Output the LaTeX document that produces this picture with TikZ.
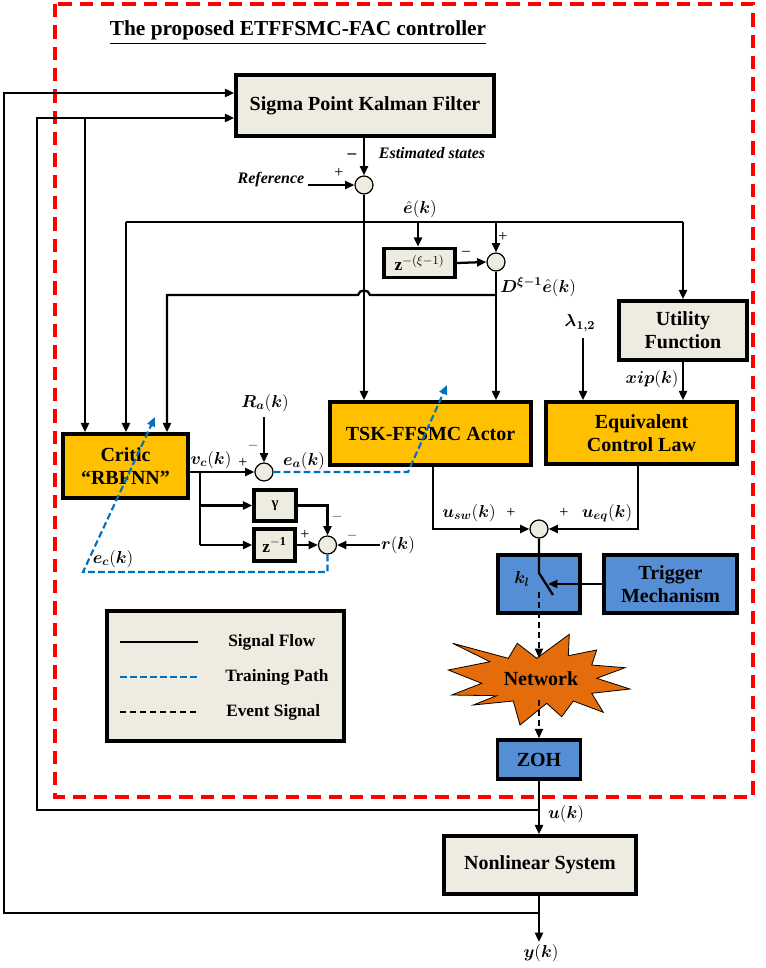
\RequirePackage{fix-cm}
\documentclass[tikz,border=0pt]{standalone}
\usepackage{amsmath,bm}
\usepackage{fontspec}
\setmainfont{Liberation Serif}
\usetikzlibrary{arrows.meta}
\definecolor{beigec}{HTML}{EEECE1}
\definecolor{orangec}{HTML}{FFC000}
\definecolor{bluebox}{HTML}{558ED5}
\definecolor{netc}{HTML}{E46C0A}
\definecolor{trainc}{HTML}{0070C0}
\definecolor{redc}{HTML}{FF0000}
\begin{document}
\begin{tikzpicture}[x=0.75pt,y=-0.75pt,
  box/.style={draw, line width=2.6pt, font=\bfseries\fontsize{15}{17}\selectfont, align=center, inner sep=0pt},
  sumc/.style={circle, draw, line width=0.9pt, fill=beigec, minimum size=13.5pt, inner sep=0pt},
  ln/.style={line width=1.7pt},
  tip/.style={-{Triangle[length=7pt,width=6pt]}},
  arr/.style={ln, tip},
  train/.style={line width=1.6pt, color=trainc, dash pattern=on 5pt off 2.5pt},
  evt/.style={line width=1.4pt, dash pattern=on 4.5pt off 3pt},
  redbox/.style={line width=2.4pt, color=redc, dash pattern=on 10pt off 6pt},
  lbl/.style={font=\fontsize{12}{14}\selectfont, inner sep=0pt},
  ilbl/.style={font=\bfseries\itshape\fontsize{12}{14}\selectfont, inner sep=0pt},
  mlbl/.style={font=\fontsize{13}{15}\selectfont, inner sep=0pt},
  legt/.style={font=\bfseries\fontsize{13}{15}\selectfont, anchor=west, inner sep=0pt}
]
\useasboundingbox (0,0) rectangle (766,968);
\fill[white] (0,0) rectangle (766,968);

% red dashed frame
\draw[redbox] (55,4) rectangle (753,797);

% title
\node[font=\bfseries\fontsize{16}{18}\selectfont, inner sep=0pt] (title) at (298,33) {\underline{The proposed ETFFSMC-FAC controller}};

% boxes
\node[box, fill=beigec, minimum width=193.5pt, minimum height=45.75pt] (spkf) at (365,105.5) {Sigma Point Kalman Filter};
\node[box, fill=beigec, minimum width=53.25pt, minimum height=21.75pt, font=\fontsize{13}{15}\selectfont] (zbox) at (419.5,263) {$\mathbf{z}^{-(\xi-1)}$};
\node[box, fill=beigec, minimum width=96pt, minimum height=44.25pt] (util) at (683,330.5) {Utility\\Function};
\node[box, fill=orangec, minimum width=143.25pt, minimum height=46.5pt] (ecl) at (641.5,433) {Equivalent\\Control Law};
\node[box, fill=orangec, minimum width=150.75pt, minimum height=47.25pt] (tsk) at (430.5,433.5) {TSK-FFSMC Actor};
\node[box, fill=orangec, minimum width=93.75pt, minimum height=48pt] (critic) at (125.5,466) {Critic\\``RBFNN''};
\node[box, fill=beigec, minimum width=31.5pt, minimum height=23.25pt, font=\bfseries\fontsize{11}{13}\selectfont] (gamma) at (275,505.5) {γ};
\node[box, fill=beigec, minimum width=30.75pt, minimum height=24pt, font=\fontsize{13}{15}\selectfont] (zinv) at (274.5,545) {$\mathbf{z}^{\mathbf{-1}}$};
\node[box, fill=bluebox, minimum width=61.5pt, minimum height=43.5pt] (kl) at (539,584) {};
\node[box, fill=bluebox, minimum width=99.75pt, minimum height=43.5pt] (trig) at (670.5,584) {Trigger\\Mechanism};
\node[box, fill=bluebox, minimum width=62.25pt, minimum height=29.25pt] (zoh) at (539,759.5) {ZOH};
\node[box, fill=beigec, minimum width=144pt, minimum height=43.5pt] (ns) at (540,865) {Nonlinear System};
\node[mlbl] (kll) at (522,579) {$\bm{k_l}$};

% network starburst
\draw[fill=netc, line width=0.6pt] (452.7,643.3) -- (508.3,658.3) -- (517.3,643.3) -- (536.7,658.3) -- (569.3,634.3) -- (568.3,655.7) -- (596.7,650) -- (591.7,665) -- (625,667.7) -- (596.7,678.3) -- (630,689) -- (591.7,693.3) -- (603.3,712.3) -- (573.3,701) -- (561.7,716.7) -- (546.7,703.3) -- (520,725) -- (513.3,701) -- (473.3,705) -- (496.7,695.7) -- (451.7,695) -- (481.7,683.3) -- (448.3,670) -- (490,661.7) -- cycle;
\node[font=\bfseries\fontsize{15}{17}\selectfont, inner sep=0pt] (net) at (541,679) {Network};

% summing junctions
\node[sumc] (s1) at (364,185) {};
\node[sumc] (s2) at (496,262) {};
\node[sumc] (s3) at (264,472) {};
\node[sumc] (s4) at (327.5,545) {};
\node[sumc] (s5) at (539,529) {};

% coordinates
\coordinate (ref) at (308,185);
\coordinate (ehL) at (126,222);
\coordinate (ehR) at (683,222);
\coordinate (ehZ) at (418,222);
\coordinate (ehS) at (496,222);
\coordinate (b295) at (496,295);
\coordinate (j1) at (370,295);
\coordinate (j2) at (358,295);
\coordinate (c167) at (167,295);
\coordinate (lam) at (583,338);
\coordinate (tx) at (433,0);
\coordinate (ex) at (638,0);
\coordinate (sw1) at (539,573);
\coordinate (sw2) at (553,595);
\coordinate (swin) at (548,584);
\coordinate (ev0) at (539,592);
\coordinate (nettop) at (539,658);
\coordinate (netbot) at (539,700);
\coordinate (uj) at (539,810);
\coordinate (u1) at (37,810);
\coordinate (u2) at (37,118);
\coordinate (u3) at (85,118);
\coordinate (yj) at (539,913);
\coordinate (yend) at (539,942);
\coordinate (y1) at (4,913);
\coordinate (y2) at (4,93);
\coordinate (br) at (200,472);
\coordinate (br2) at (200,545);
\coordinate (ra) at (264,417);
\coordinate (rk) at (380,545);
\coordinate (ea1) at (408,472);
\coordinate (ea2) at (447,385);
\coordinate (ec1) at (327.5,572);
\coordinate (ec2) at (83,572);
\coordinate (ec3) at (155,417);

% signal connectors
\draw[arr] (spkf.south -| s1) -- (s1.north);
\draw[arr] (ref) -- (s1.west);
\draw[arr] (s1.south) -- (s1.south |- tsk.north);
\draw[ln] (ehL) -- (ehR);
\draw[arr] (ehL) -- (critic.north -| ehL);
\draw[arr] (ehZ) -- (zbox.north -| ehZ);
\draw[arr] (ehS) -- (s2.north);
\draw[arr] (ehR) -- (util.north);
\draw[arr] (zbox.east) -- (s2.west);
\draw[arr] (s2.south) -- (s2.south |- tsk.north);
\draw[arr] (b295) -- (j1) .. controls (369,289) and (359,289) .. (j2) -- (c167) -- (critic.north -| c167);
\draw[arr] (util.south) -- (util.south |- ecl.north);
\draw[arr] (lam) -- (lam |- ecl.north);
\draw[arr] (tsk.south -| tx) |- (s5.west);
\draw[arr] (ecl.south -| ex) |- (s5.east);
\draw[ln] (s5.south) -- (sw1) -- (sw2);
\draw[arr] (trig.west) -- (swin);
\draw[evt, tip] (ev0) -- (nettop);
\draw[evt, tip] (netbot) -- (zoh.north);
\draw[arr] (zoh.south) -- (zoh.south |- ns.north);
\draw[arr] (uj) -- (u1) -- (u2) -- (spkf.west |- u2);
\draw[arr] (u3) -- (critic.north -| u3);
\draw[arr] (ns.south -| yj) -- (yend);
\draw[arr] (yj) -- (y1) -- (y2) -- (spkf.west |- y2);
\draw[arr] (critic.east |- s3) -- (s3.west);
\draw[ln] (br) -- (br2);
\draw[arr] (br |- gamma) -- (gamma.west);
\draw[arr] (br2) -- (zinv.west);
\draw[arr] (ra) -- (s3.north);
\draw[arr] (gamma.east) -| (s4.north);
\draw[arr] (zinv.east) -- (s4.west);
\draw[arr] (rk) -- (s4.east);

% training paths
\draw[train, tip] (s3.east) -- (ea1) -- (ea2);
\draw[train, tip] (s4.south) -- (ec1) -- (ec2) -- (ec3);

% labels
\node[ilbl] (lest) at (432,153) {Estimated states};
\node[ilbl] (lref) at (271,180) {Reference};
\node[lbl, font=\bfseries\fontsize{13}{15}\selectfont] (m1) at (352,156) {–};
\node[lbl] (p1) at (339,173) {+};
\node[mlbl] (lehat) at (420,209) {$\bm{\hat{e}}(\bm{k})$};
\node[lbl] (m2) at (466,253) {–};
\node[lbl] (p2) at (503,237) {+};
\node[mlbl, anchor=west] (lD) at (500,287) {$\bm{D}^{\bm{\xi-1}}\bm{\hat{e}}(\bm{k})$};
\node[mlbl] (llam) at (580,323) {$\bm{\lambda_{1,2}}$};
\node[mlbl] (lxip) at (652,379) {$\bm{xip}(\bm{k})$};
\node[mlbl] (lra) at (265,403) {$\bm{R_a}(\bm{k})$};
\node[lbl, text=black!60] (m3) at (253,447) {–};
\node[lbl] (p3) at (243,463) {+};
\node[mlbl] (lvc) at (211,460) {$\bm{v_c}(\bm{k})$};
\node[mlbl] (lea) at (304,461) {$\bm{e_a}(\bm{k})$};
\node[lbl, text=black!60] (m4) at (337,518) {–};
\node[lbl] (p4) at (305,535) {+};
\node[lbl, text=black!60] (m5) at (352,537) {–};
\node[mlbl] (lrk) at (398,545) {$\bm{r}(\bm{k})$};
\node[mlbl] (lec) at (113,559) {$\bm{e_c}(\bm{k})$};
\node[mlbl] (lusw) at (469,513) {$\bm{u_{sw}}(\bm{k})$};
\node[lbl] (p5) at (511,513) {+};
\node[lbl] (p6) at (564,513) {+};
\node[mlbl] (lueq) at (607,513) {$\bm{u_{eq}}(\bm{k})$};
\node[mlbl] (luk) at (566,814) {$\bm{u}(\bm{k})$};
\node[mlbl] (lyk) at (541,953) {$\bm{y}(\bm{k})$};

% legend
\node[draw, line width=2.6pt, fill=beigec, minimum width=177.75pt, minimum height=97.5pt] (leg) at (225.5,676) {};
\coordinate (la1) at (120,642); \coordinate (la2) at (198,642);
\coordinate (lb1) at (120,677); \coordinate (lb2) at (198,677);
\coordinate (lc1) at (120,712); \coordinate (lc2) at (198,712);
\draw[line width=1.7pt] (la1) -- (la2);
\draw[train] (lb1) -- (lb2);
\draw[evt] (lc1) -- (lc2);
\node[legt] (lt1) at (228,642) {Signal Flow};
\node[legt] (lt2) at (225,677) {Training Path};
\node[legt] (lt3) at (226,712) {Event Signal};
\end{tikzpicture}
\end{document}
